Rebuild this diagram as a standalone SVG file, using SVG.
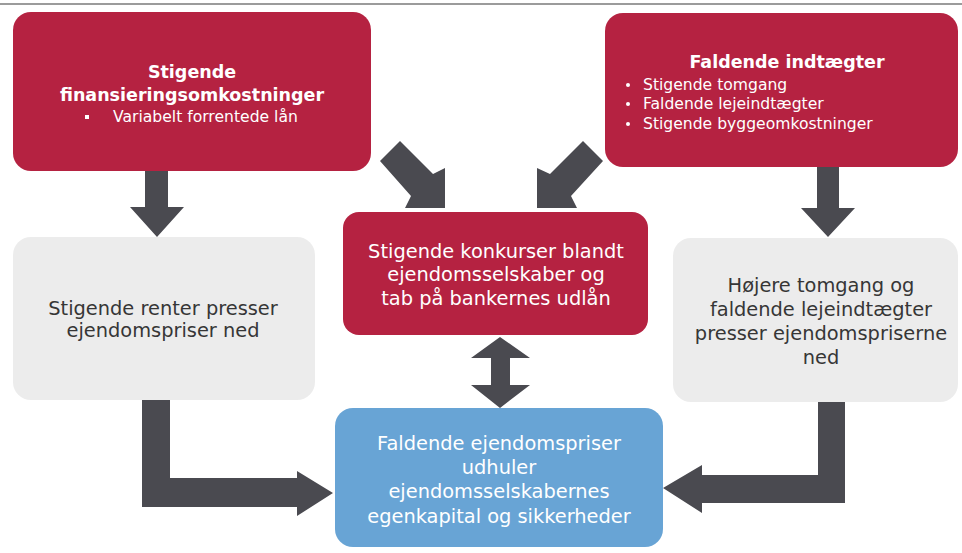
<svg xmlns="http://www.w3.org/2000/svg" width="962" height="553" viewBox="0 0 962 553">
<style>
.red{fill:#b52241}
.gray{fill:#ececec}
.blue{fill:#68a4d5}
.arr{fill:#4a4a50}
text{font-family:"DejaVu Sans","Open Sans",sans-serif}
.w{fill:#ffffff}
.d{fill:#363636}
.t{font-size:17.5px;font-weight:bold}
.s{font-size:15.6px}
.m{font-size:19.4px}
</style>
<rect x="0" y="0" width="962" height="553" fill="#ffffff"/>
<line x1="0" y1="4" x2="962" y2="4" stroke="#7a7a7a" stroke-width="1.5"/>
<g id="connectors">
<polygon class="arr" points="145,171 168,171 168,207 184,207 157,237 130,207 145,207"/>
<polygon class="arr" points="817,167 839,167 839,208 855,208 828,237 801,208 817,208"/>
<polygon class="arr" points="380,161 400,141 433,174 445,168 445,208 405,208 411,196"/>
<polygon class="arr" points="603,161 583,141 550,174 537,168 537,208 577,208 571,196"/>
<polygon class="arr" points="500,337 530,358 510,358 510,385 530,385 500,408 471,385 491,385 491,358 471,358"/>
<polygon class="arr" points="142,400 170,400 170,478 297,478 297,471 333,493 297,516 297,507 142,507"/>
<polygon class="arr" points="818,402 845,402 845,503 702,503 702,513 663,488 702,465 702,475 818,475"/>
</g>
<g id="node-finansiering">
<rect class="red" x="13" y="12" width="358" height="159" rx="18"/>
<text class="w t" x="192" y="78" text-anchor="middle">Stigende</text>
<text class="w t" x="192" y="101" text-anchor="middle">finansieringsomkostninger</text>
<rect class="w" x="85" y="115" width="4" height="4"/>
<text class="w s" x="113" y="122">Variabelt forrentede lån</text>
</g>
<g id="node-indtaegter">
<rect class="red" x="605" y="13" width="353" height="154" rx="18"/>
<text class="w t" x="787" y="68" text-anchor="middle">Faldende indtægter</text>
<circle class="w" cx="628" cy="85" r="2"/>
<text class="w s" x="643" y="90">Stigende tomgang</text>
<circle class="w" cx="628" cy="104" r="2"/>
<text class="w s" x="643" y="109">Faldende lejeindtægter</text>
<circle class="w" cx="628" cy="124" r="2"/>
<text class="w s" x="643" y="129">Stigende byggeomkostninger</text>
</g>
<g id="node-konkurser">
<rect class="red" x="343" y="212" width="305" height="123" rx="16"/>
<text class="w m" x="496" y="258" text-anchor="middle">Stigende konkurser blandt</text>
<text class="w m" x="496" y="281" text-anchor="middle">ejendomsselskaber og</text>
<text class="w m" x="496" y="305" text-anchor="middle">tab på bankernes udlån</text>
</g>
<g id="node-renter">
<rect class="gray" x="13" y="237" width="302" height="163" rx="18"/>
<text class="d m" x="163" y="315" text-anchor="middle">Stigende renter presser</text>
<text class="d m" x="163" y="337" text-anchor="middle">ejendomspriser ned</text>
</g>
<g id="node-tomgang">
<rect class="gray" x="673" y="238" width="285" height="164" rx="18"/>
<text class="d m" x="821" y="292" text-anchor="middle">Højere tomgang og</text>
<text class="d m" x="821" y="316" text-anchor="middle">faldende lejeindtægter</text>
<text class="d m" x="821" y="340" text-anchor="middle">presser ejendomspriserne</text>
<text class="d m" x="821" y="364" text-anchor="middle">ned</text>
</g>
<g id="node-ejendomspriser">
<rect class="blue" x="335" y="408" width="328" height="139" rx="18"/>
<text class="w m" x="499" y="450" text-anchor="middle">Faldende ejendomspriser</text>
<text class="w m" x="499" y="474" text-anchor="middle">udhuler</text>
<text class="w m" x="499" y="498" text-anchor="middle">ejendomsselskabernes</text>
<text class="w m" x="499" y="523" text-anchor="middle">egenkapital og sikkerheder</text>
</g>
</svg>
